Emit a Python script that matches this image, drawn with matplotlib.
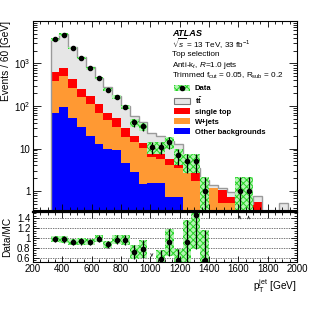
import numpy as np
import matplotlib
matplotlib.use("Agg")
from matplotlib import pyplot as plt
from matplotlib.patches import Patch
from matplotlib.lines import Line2D
from matplotlib.legend_handler import HandlerTuple
from matplotlib.ticker import MultipleLocator, LogLocator, NullFormatter, FixedLocator, FixedFormatter

plt.rcParams['font.family'] = ['Liberation Sans', 'DejaVu Sans']
plt.rcParams['mathtext.fontset'] = 'custom'
plt.rcParams['mathtext.rm'] = 'Liberation Sans'
plt.rcParams['mathtext.it'] = 'Liberation Sans:italic'
plt.rcParams['mathtext.bf'] = 'Liberation Sans:bold'
plt.rcParams['hatch.linewidth'] = 0.7

# binning of the large-R jet pT (GeV), 60 GeV bins
bin_edges = list(range(320, 2001, 60))

# MC predictions (events per bin)
ttbar = [3139, 4094, 2059, 1200, 669, 353, 206, 120, 68.9, 38.5, 28.9, 14.3, 12.2, 9.6,
         8.0, 1.8, 0.44, 0.2, 0.16, 0.12, 0.23, 0.1, 0.05, 0.18, 0, 0, 0.52, 0]
single_top = [254, 289, 171, 85, 62, 42, 22.5, 18.7, 11.8, 5.2, 3.0, 2.0, 1.5, 1.6,
              1.0, 0.6, 1.27, 0.3, 0, 0.56, 0.2, 0.08, 0.05, 0.37, 0, 0, 0, 0]
wjets = [320, 414, 209, 133, 89.5, 54.4, 37, 23.2, 14.1, 11.5, 9.0, 4.76, 4.26, 3.48,
         2.78, 3.0, 1.69, 1.3, 1.2, 0.52, 0.52, 0.42, 0.4, 0.2, 0, 0, 0, 0]
other = [67, 93, 51, 32, 19.5, 12.6, 9.5, 9.1, 4.7, 2.8, 1.5, 1.54, 1.54, 0.72,
         0.72, 0, 0, 0, 0, 0, 0, 0, 0, 0, 0, 0, 0, 0]

# observed data and its relative uncertainty
data = [3700, 4740, 2300, 1350, 770, 455, 240, 165, 95, 41, 33, 11, 11, 14,
        7, 5, 5, 1, 0, 0, 0, 1, 1, 0, 0, 0, 0, 0]
data_unc = [0.07, 0.07, 0.07, 0.07, 0.07, 0.07, 0.085, 0.1, 0.11, 0.2, 0.23, 0.32, 0.32, 0.3,
            0.4, 0.47, 0.47, 1.1, 0, 0, 0, 1.1, 1.1, 0, 0, 0, 0, 0]

W, H = 332, 322
fig = plt.figure(figsize=(W / 100, H / 100), dpi=100)
ax = fig.add_axes([33 / W, 1 - 209.5 / H, 264 / W, 188.5 / H])
rax = fig.add_axes([33 / W, 1 - 261.5 / H, 264 / W, 49.5 / H])

edges = np.array(bin_edges, float)
centers = 0.5 * (edges[1:] + edges[:-1])
width = edges[1] - edges[0]
floor = 1e-3

stack = np.cumsum([other, wjets, single_top, ttbar], axis=0)
total = stack[-1]
colors = ['#0000ff', '#ff9933', '#ff0000', '#e6e6e6']
for level, col in reversed(list(zip(stack, colors))):
    ax.stairs(np.where(level > 0, level, floor), edges, baseline=floor, fill=True,
              color=col, lw=0)
ax.stairs(np.where(total > 0, total, floor), edges, baseline=floor, color='#9a9a9a', lw=1.0)

data = np.array(data, float)
unc = np.array(data_unc)
has = data > 0
lo = np.clip(data * (1 - unc), floor, None)
hi = data * (1 + unc)
green_kw = dict(width=width, facecolor='#b4f4b4', edgecolor='#22d422', hatch='xxxxx', lw=0)
ax.bar(centers[has], (hi - lo)[has], bottom=lo[has], **green_kw)
ax.errorbar(centers[has], data[has], yerr=[(data - lo)[has], (hi - data)[has]], fmt='o',
            color='k', ms=3, elinewidth=0.9, capsize=0)

ax.set_yscale('log')
ax.set_xlim(200, 2000)
ax.set_ylim(0.37, 9900)
ax.yaxis.set_major_locator(FixedLocator([1, 10, 100, 1000]))
ax.yaxis.set_major_formatter(FixedFormatter(['1', '10', '10$^{2}$', '10$^{3}$']))
ax.yaxis.set_minor_locator(LogLocator(base=10, subs=np.arange(2, 10), numticks=20))
ax.yaxis.set_minor_formatter(NullFormatter())
ax.xaxis.set_major_locator(MultipleLocator(200))
ax.xaxis.set_minor_locator(MultipleLocator(50))
ax.tick_params(axis='x', labelbottom=False)
ax.set_ylabel('Events / 60 [GeV]', fontsize=7.3, loc='top', labelpad=2)

# ratio panel
ratio = np.divide(data, total, out=np.zeros_like(data), where=total > 0)
rlo_lim, rhi_lim = 0.52, 1.53
inr = has & (ratio > rlo_lim) & (ratio < rhi_lim)
rlo = ratio * (1 - unc)
rhi = ratio * (1 + unc)
rax.bar(centers[inr], (rhi - rlo)[inr], bottom=rlo[inr], **green_kw)
rax.errorbar(centers[inr], ratio[inr], yerr=[(ratio - rlo)[inr], (rhi - ratio)[inr]], fmt='o',
             color='k', ms=3, elinewidth=0.9, capsize=0)
for c in centers[has & (ratio >= rhi_lim)]:
    rax.annotate('', xy=(c, 1.51), xytext=(c, 1.38),
                 arrowprops=dict(arrowstyle='->', lw=0.6, color='#333333', mutation_scale=4))
for c in centers[has & (ratio <= rlo_lim)]:
    rax.annotate('', xy=(c, 0.56), xytext=(c, 0.70),
                 arrowprops=dict(arrowstyle='->', lw=0.6, color='#333333', mutation_scale=4))
for yv in [0.6, 0.8, 1.0, 1.2, 1.4]:
    rax.axhline(yv, color='#444444', lw=0.5, ls=(0, (2, 1.5)), zorder=0)

rax.set_xlim(200, 2000)
rax.set_ylim(rlo_lim, rhi_lim)
rax.xaxis.set_major_locator(MultipleLocator(200))
rax.xaxis.set_minor_locator(MultipleLocator(50))
rax.yaxis.set_major_locator(FixedLocator([0.6, 0.8, 1.0, 1.2, 1.4]))
rax.yaxis.set_major_formatter(FixedFormatter(['0.6', '0.8', '1', '1.2', '1.4']))
rax.yaxis.set_minor_locator(MultipleLocator(0.05))
rax.set_ylabel('Data/MC', fontsize=7.3, labelpad=3)
rax.set_xlabel(r'p$_{\rm T}^{\rm jet}$ [GeV]', fontsize=7.3, loc='right', labelpad=2)

for a in (ax, rax):
    a.tick_params(which='both', direction='in', top=True, right=True, labelsize=7, pad=2)
    a.tick_params(which='major', length=4, width=0.6)
    a.tick_params(which='minor', length=2, width=0.6)
    for s in a.spines.values():
        s.set_linewidth(0.8)
ax.tick_params(axis='y', which='major', length=6)
ax.tick_params(axis='y', which='minor', length=3)
rax.spines['top'].set_linewidth(1.6)

# labels
def fx(px):
    return px / W

def fy(py):
    return 1 - py / H

fig.text(fx(172.5), fy(33.3), 'ATLAS', fontsize=6.6, weight='bold', style='italic', va='center')
lines = [r'$\sqrt{s}$ = 13 TeV, 33 fb$^{-1}$', 'Top selection',
         r'Anti-k$_{t}$, $R$=1.0 jets', r'Trimmed f$_{\rm cut}$ = 0.05, R$_{\rm sub}$ = 0.2']
for i, t in enumerate(lines):
    fig.text(fx(172.5), fy(43.7 + 10.8 * i), t, fontsize=5.9, va='center')

handles = [
    (Patch(facecolor='#b4f4b4', edgecolor='#22d422', hatch='xxxxx', lw=0),
     Line2D([], [], marker='o', color='k', ms=3, ls='none')),
    Patch(facecolor='#e6e6e6', edgecolor='#7a7a7a', lw=0.8),
    Patch(facecolor='#ff0000', lw=0),
    Patch(facecolor='#ff9933', lw=0),
    Patch(facecolor='#0000ff', lw=0),
]
labels = ['Data', r'$\mathbf{t\bar{t}}$', 'single top', 'W+jets', 'Other backgrounds']
leg = fig.legend(handles, labels, loc='upper left', bbox_to_anchor=(fx(174), fy(85)),
                 frameon=False, borderpad=0, borderaxespad=0, handlelength=2.1,
                 handleheight=0.75, handletextpad=0.6, labelspacing=0.33,
                 prop=dict(size=5.5, weight='bold'),
                 handler_map={tuple: HandlerTuple(ndivide=1, pad=0)})

fig.savefig('out.png', dpi=100)
